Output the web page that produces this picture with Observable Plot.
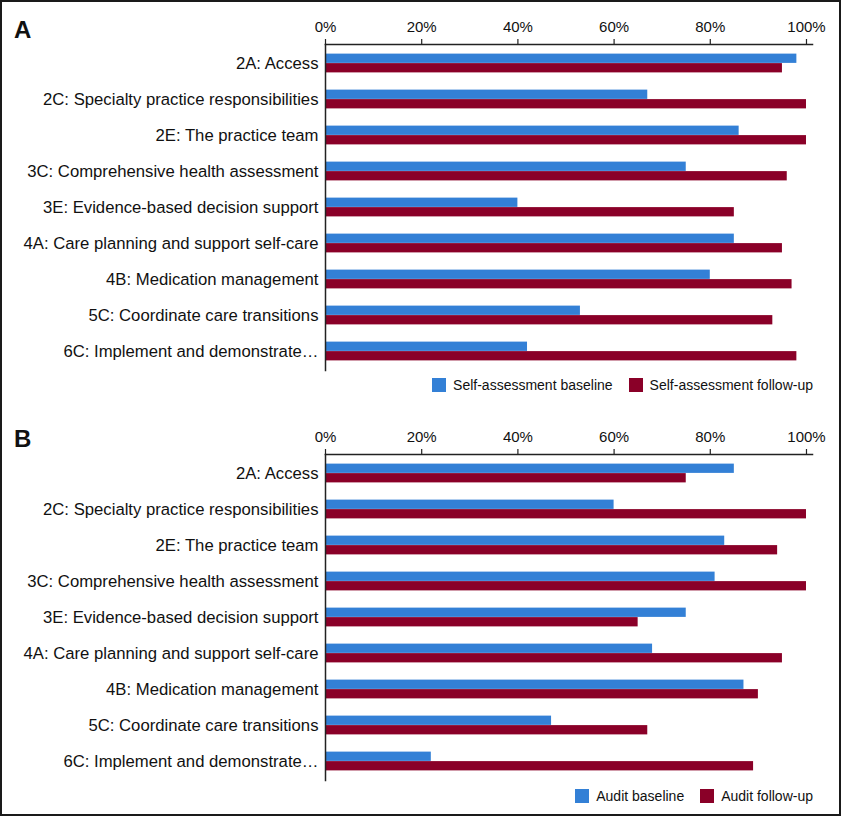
<!DOCTYPE html>
<html>
<head>
<meta charset="utf-8">
<script src="https://cdn.jsdelivr.net/npm/d3@7"></script>
<script src="https://cdn.jsdelivr.net/npm/@observablehq/plot@0.6"></script>
<style>
  html, body { margin: 0; padding: 0; background: #fff; }
  #wrap { position: relative; width: 841px; height: 816px; overflow: hidden; font-family: "Liberation Sans", Arial, sans-serif; color: #111; }
  .panel { position: absolute; left: 0; }
  .letter { position: absolute; left: 14px; font-weight: bold; font-size: 24px; line-height: 1; }
  .legend { position: absolute; right: 28px; display: flex; align-items: center; font-size: 14px; line-height: 1; }
  .legend .item { display: flex; align-items: center; margin-left: 16px; }
  .legend .sw { width: 14px; height: 14px; margin-right: 7px; }
  #border { position: absolute; left: 0; top: 0; width: 841px; height: 816px; box-sizing: border-box; border: 2px solid #1a1a1a; pointer-events: none; }
</style>
</head>
<body>
<div id="wrap">
  <div class="letter" style="top:18px">A</div>
  <div class="panel" id="pA" style="top:0px"></div>
  <div class="legend" id="legA" style="top:378px"></div>
  <div class="letter" style="top:427px">B</div>
  <div class="panel" id="pB" style="top:410px"></div>
  <div class="legend" id="legB" style="top:789px"></div>
  <div id="border"></div>
</div>
<script>
const categories = [
  "2A: Access",
  "2C: Specialty practice responsibilities",
  "2E: The practice team",
  "3C: Comprehensive health assessment",
  "3E: Evidence-based decision support",
  "4A: Care planning and support self-care",
  "4B: Medication management",
  "5C: Coordinate care transitions",
  "6C: Implement and demonstrate\u2026"
];
const selfBaseline = [0.98, 0.67, 0.86, 0.75, 0.40, 0.85, 0.80, 0.53, 0.42];
const selfFollowUp = [0.95, 1.00, 1.00, 0.96, 0.85, 0.95, 0.97, 0.93, 0.98];
const auditBaseline = [0.85, 0.60, 0.83, 0.81, 0.75, 0.68, 0.87, 0.47, 0.22];
const auditFollowUp = [0.75, 1.00, 0.94, 1.00, 0.65, 0.95, 0.90, 0.67, 0.89];
const tickValues = [0, 0.2, 0.4, 0.6, 0.8, 1];
const seriesA = ["Self-assessment baseline", "Self-assessment follow-up"];
const seriesB = ["Audit baseline", "Audit follow-up"];
const colors = ["#3380d6", "#8a0028"];

function panel(baseVals, followVals) {
  const W = 841, H = 372, mt = 44, mb = 2, ml = 325, mr = 29;
  const bw = (H - mt - mb) / categories.length;
  const barH = 9.5;
  const gap = (bw - 2 * barH) / 2;
  const base = categories.map((c, i) => ({cat: c, v: baseVals[i]}));
  const follow = categories.map((c, i) => ({cat: c, v: followVals[i]}));
  return Plot.plot({
    width: W, height: H,
    marginTop: mt, marginBottom: mb, marginLeft: ml, marginRight: mr,
    style: {fontFamily: '"Liberation Sans", Arial, sans-serif', color: "#111", background: "transparent"},
    x: {domain: [0, 1.0125]},
    y: {domain: categories, padding: 0},
    marks: [
      Plot.barX(base, {x: "v", y: "cat", fill: colors[0], insetTop: gap, insetBottom: gap + barH}),
      Plot.barX(follow, {x: "v", y: "cat", fill: colors[1], insetTop: gap + barH, insetBottom: gap}),
      Plot.axisX({anchor: "top", ticks: tickValues, tickFormat: d3.format(".0%"), tickSize: 6, tickPadding: 7, fontSize: 15, stroke: "#222", strokeWidth: 1.2, label: null}),
      Plot.axisY({anchor: "left", tickSize: 0, tickPadding: 7, fontSize: 16.7, label: null}),
      Plot.frame({anchor: "top", stroke: "#222", strokeWidth: 1.5}),
      Plot.frame({anchor: "left", stroke: "#222", strokeWidth: 1.5})
    ]
  });
}

function legend(el, names) {
  names.forEach((n, i) => {
    const it = document.createElement("div");
    it.className = "item";
    const sw = document.createElement("div");
    sw.className = "sw";
    sw.style.background = colors[i];
    const t = document.createElement("span");
    t.textContent = n;
    it.appendChild(sw); it.appendChild(t);
    el.appendChild(it);
  });
}

document.getElementById("pA").appendChild(panel(selfBaseline, selfFollowUp));
document.getElementById("pB").appendChild(panel(auditBaseline, auditFollowUp));
legend(document.getElementById("legA"), seriesA);
legend(document.getElementById("legB"), seriesB);
</script>
</body>
</html>
